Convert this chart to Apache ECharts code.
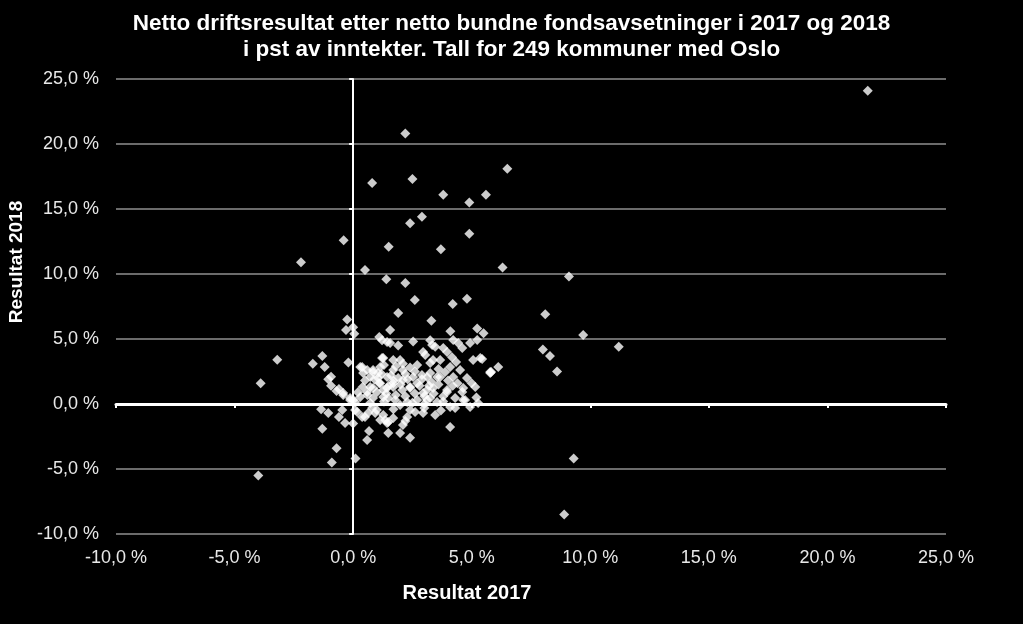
<!DOCTYPE html>
<html>
<head>
<meta charset="utf-8">
<script src="https://cdn.jsdelivr.net/npm/echarts@6/dist/echarts.min.js"></script>
<style>
html,body{margin:0;padding:0;background:#000;}
#chart{width:1023px;height:624px;}
</style>
</head>
<body>
<div id="chart"></div>
<script>
var titleLines = ["Netto driftsresultat etter netto bundne fondsavsetninger i 2017 og 2018", "i pst av inntekter. Tall for 249 kommuner med Oslo"];
var xAxisName = "Resultat 2017";
var yAxisName = "Resultat 2018";
var xTicks = [-10, -5, 0, 5, 10, 15, 20, 25];
var yTicks = [-10, -5, 0, 5, 10, 15, 20, 25];

// Outliers and spread points [resultat 2017 %, resultat 2018 %]
var spreadPoints = [
[21.7,24.1],[2.2,20.8],[2.5,17.3],[0.8,17.0],[6.5,18.1],[5.6,16.1],[3.8,16.1],[4.9,15.5],
[2.9,14.4],[2.4,13.9],[4.9,13.1],[-0.4,12.6],[1.5,12.1],[3.7,11.9],[-2.2,10.9],[0.5,10.3],
[6.3,10.5],[1.4,9.6],[9.1,9.8],[2.2,9.3],[2.6,8.0],[4.8,8.1],[4.2,7.7],[8.1,6.9],[3.3,6.4],
[9.7,5.3],[11.2,4.4],[8.0,4.2],[8.3,3.7],[8.6,2.5],[9.3,-4.2],[8.9,-8.5],[-4.0,-5.5],
[-3.9,1.6],[-3.2,3.4],[0.1,-4.2],[-0.9,-4.5],[-0.7,-3.4],[-1.3,-1.9],[1.9,7.0]
];
// Points near the vertical zero line and left of it
var leftPoints = [
[-0.25,6.5],[-0.3,5.7],[0.0,5.9],[0.05,5.4],[-1.3,3.7],[-1.7,3.1],[-1.2,2.85],[-0.2,3.2],
[-1.05,1.9],[-0.93,2.1],[-0.93,1.4],[-0.6,1.15],[-0.7,1.0],[-0.42,0.7],[-0.13,0.3],[-0.13,0.46],
[-1.35,-0.4],[-1.05,-0.7],[-0.6,-1.0],[-0.46,-0.46],[-0.34,-1.46],[0.0,-1.5],[0.08,-0.46],[0.08,0.15]
];
// Upper part of main cluster (y 3-6 %)
var upperCluster = [
[1.56,5.7],[4.1,5.6],[5.23,5.8],[5.5,5.45],[1.1,5.15],[1.22,4.9],[1.56,4.7],[1.9,4.5],
[2.53,4.8],[3.25,4.9],[3.33,4.54],[3.46,4.4],[3.8,4.3],[4.22,4.92],[4.43,4.69],[4.6,4.3],
[4.93,4.7],[5.23,4.92],[2.95,4.0],[1.43,4.77],[3.96,4.0],[4.17,3.6],[4.34,3.23],[4.09,2.85],
[3.88,2.46],[3.67,3.38],[3.25,3.15],[5.06,3.38],[5.36,3.54],[5.78,2.46],[6.12,2.85],[1.69,3.38],
[1.27,3.54],[1.98,3.38],[2.7,3.0],[3.04,3.77],[3.37,3.38],[4.51,2.62],[0.38,2.85],[0.59,2.62],
[1.14,2.85],[0.84,2.46],[5.44,3.46],[5.82,2.46],[1.22,3.54],[2.4,2.8],[1.8,2.9],[1.3,3.0],
[3.6,2.7],[2.1,3.1]
];
// Middle band of main cluster (y 0-2.6 %)
var middleCluster = [
[0.3,2.85],[0.84,2.62],[1.05,2.38],[1.69,2.62],[2.1,2.62],[3.25,2.38],[2.9,2.23],[3.67,2.08],
[4.22,2.08],[4.64,1.23],[5.0,1.6],[5.15,1.3],[0.72,1.3],[1.14,1.6],[1.43,1.23],[1.69,1.3],
[2.07,1.08],[2.4,1.3],[2.7,1.6],[3.12,1.08],[3.37,1.23],[3.96,1.08],[4.3,0.46],[4.64,0.31],
[-0.42,0.85],[0.0,0.31],[0.3,0.54],[0.84,0.46],[1.27,0.54],[1.77,0.31],[2.28,0.15],[2.7,0.31],
[3.12,0.31],[3.54,0.15],[4.09,-0.23],[5.27,0.08],[0.59,0.92],[0.84,1.23],[0.42,2.38],[0.72,2.08],
[1.05,2.0],[1.43,2.08],[1.27,1.08],[1.48,0.46],[0.72,0.08],[5.78,2.38],[3.96,0.92],[4.6,0.92],
[4.72,0.31],[4.93,-0.23],[4.3,-0.31],[3.25,0.46],[2.95,0.85],[2.4,1.23],[3.12,2.08],[3.54,2.08],
[2.53,2.08],[2.1,1.85],[1.69,1.6],[0.5,1.8],[0.9,1.9],[1.2,2.3],[1.6,2.2],[1.9,2.0],
[2.2,2.3],[2.6,2.5],[2.9,1.9],[3.3,1.7],[3.6,1.5],[0.6,0.7],[1.0,0.9],[1.4,0.8],
[1.8,0.7],[2.2,0.6],[2.6,0.8],[3.0,0.6],[3.4,0.8],[3.8,0.6],[2.0,1.5],[2.3,1.9],
[1.7,1.8],[1.1,1.6],[2.8,1.4],[3.2,1.4],[0.4,1.3],[0.2,0.9],[1.3,0.2],[2.5,0.1],
[3.0,0.0],[3.8,0.2],[4.4,1.6],[4.0,1.8],[4.8,2.0],[1.5,1.4],[5.2,0.5],[4.2,1.4]
];
// Lower part of main cluster (below 0 %)
var lowerCluster = [
[0.17,-0.62],[0.38,-1.0],[0.63,-0.7],[1.0,-0.46],[1.27,-0.85],[1.48,-1.38],[1.35,-1.23],[0.67,-2.08],
[0.59,-2.77],[1.48,-2.23],[3.46,-0.85],[2.95,-0.7],[2.4,-0.46],[1.98,-0.08],[2.1,-1.62],[1.98,-2.23],
[2.4,-2.6],[4.09,-1.77],[2.61,-0.62],[2.28,-1.0],[0.93,-0.7],[0.5,-1.0],[1.14,-1.23],[1.43,-1.46],
[1.69,-1.08],[3.0,-0.3],[3.7,-0.5],[1.7,-0.4],[0.8,-0.3],[2.2,-1.3]
];

var allPoints = [].concat(spreadPoints, leftPoints, upperCluster, middleCluster, lowerCluster);

function pctFmt(v){ return v.toFixed(1).replace('.', ',') + ' %'; }

var chart = echarts.init(document.getElementById('chart'));
var labelColor = '#e8e8e8';
chart.setOption({
  backgroundColor: '#000',
  animation: false,
  title: {
    text: titleLines.join('\n'),
    left: 'center',
    top: 6,
    textStyle: { color: '#fff', fontFamily: 'Liberation Sans Narrow, Liberation Sans, Arial', fontWeight: 'bold', fontSize: 22.5, lineHeight: 26 }
  },
  grid: { left: 116, right: 77, top: 79, bottom: 90, containLabel: false },
  xAxis: [{
    type: 'value', min: xTicks[0], max: xTicks[xTicks.length-1], interval: 5,
    axisLine: { show: false, onZero: false },
    axisTick: { show: false },
    splitLine: { show: false },
    axisLabel: { color: labelColor, fontSize: 18, margin: 15, fontFamily: 'Liberation Sans Narrow, Liberation Sans, Arial', formatter: pctFmt }
  }, {
    type: 'value', min: xTicks[0], max: xTicks[xTicks.length-1], interval: 5,
    position: 'bottom',
    axisLine: { show: true, onZero: true, lineStyle: { color: '#fff', width: 3 } },
    axisTick: { show: true, length: 4, lineStyle: { color: '#fff', width: 2 } },
    splitLine: { show: false },
    axisLabel: { show: false }
  }],
  yAxis: [{
    type: 'value', min: yTicks[0], max: yTicks[yTicks.length-1], interval: 5,
    axisLine: { show: false, onZero: false },
    axisTick: { show: false },
    splitLine: { show: true, lineStyle: { color: '#8f8f8f', width: 1.5 } },
    axisLabel: { color: labelColor, fontSize: 18, margin: 17, fontFamily: 'Liberation Sans, Arial', formatter: pctFmt }
  }, {
    type: 'value', min: yTicks[0], max: yTicks[yTicks.length-1], interval: 5,
    position: 'left',
    axisLine: { show: true, onZero: true, lineStyle: { color: '#fff', width: 2 } },
    axisTick: { show: true, length: 4, lineStyle: { color: '#fff', width: 2 } },
    splitLine: { show: false },
    axisLabel: { show: false }
  }],
  graphic: [{
    type: 'text', x: 17, y: 262, rotation: Math.PI/2,
    style: { text: yAxisName, fill: '#fff', font: 'bold 19px "Liberation Sans", Arial', textAlign: 'center', textVerticalAlign: 'middle' }
  }, {
    type: 'text', x: 467, y: 593,
    style: { text: xAxisName, fill: '#fff', font: 'bold 20px "Liberation Sans Narrow", "Liberation Sans", Arial', textAlign: 'center', textVerticalAlign: 'middle' }
  }],
  series: [{
    type: 'scatter',
    xAxisIndex: 0, yAxisIndex: 0,
    symbol: 'diamond',
    symbolSize: 10,
    itemStyle: { color: '#fff' },
    data: allPoints,
    z: 5
  }]
});
</script>
</body>
</html>
